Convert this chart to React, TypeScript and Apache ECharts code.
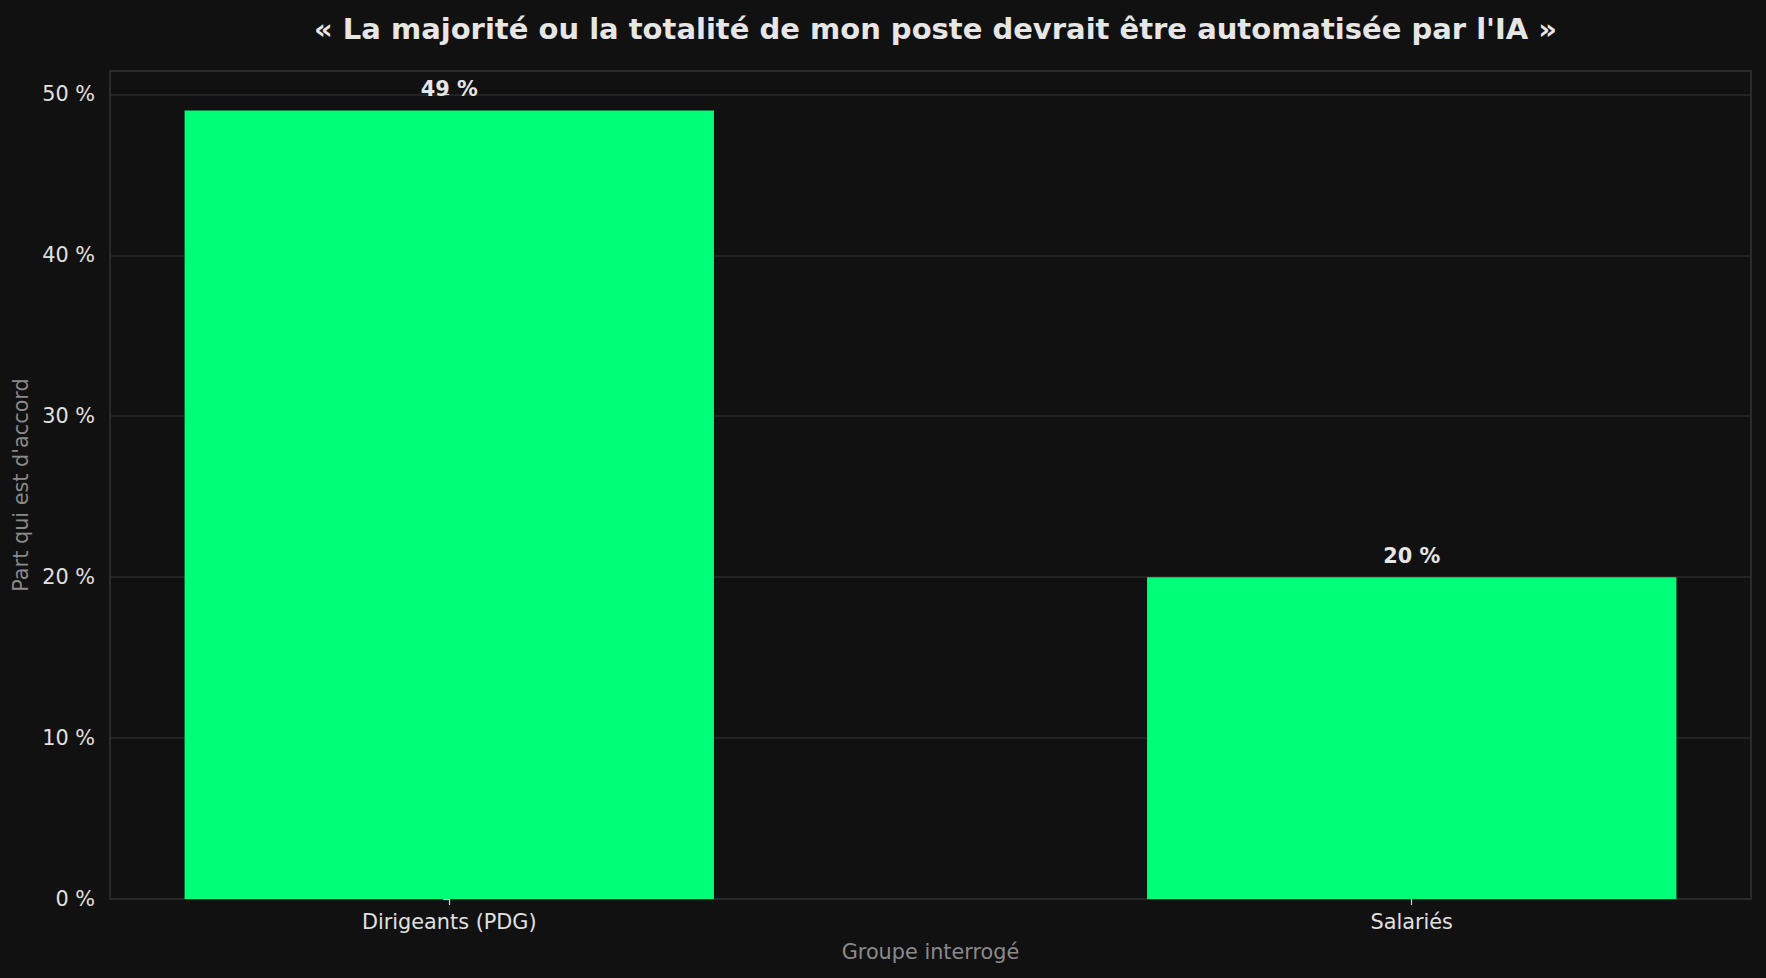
import React, { useEffect, useRef } from 'react';
import * as echarts from 'echarts';

const TITLE = "« La majorité ou la totalité de mon poste devrait être automatisée par l'IA »";
const groups = ['Dirigeants (PDG)', 'Salariés'];
const agreeShare = [49, 20];
const yTicks = [0, 10, 20, 30, 40, 50];

const W = 1766;
const H = 978;
const GRID = { left: 110, right: 15, top: 71, bottom: 79 };
const BAR_REL = 0.55;
const X_MIN = -0.3525;
const X_MAX = 1.3525;
const Y_MAX = 51.45;

const App: React.FC = () => {
  const ref = useRef<HTMLDivElement | null>(null);

  useEffect(() => {
    if (!ref.current) return;
    const chart = echarts.init(ref.current, null, { renderer: 'svg' });
    const plotW = W - GRID.left - GRID.right;
    const barPx = (BAR_REL * plotW) / (X_MAX - X_MIN);
    const font = 'DejaVu Sans';
    const idx = groups.map((_, i) => i);

    chart.setOption({
      animation: false,
      backgroundColor: '#111111',
      textStyle: { fontFamily: font },
      title: {
        text: TITLE,
        left: GRID.left + plotW / 2,
        textAlign: 'center',
        top: 9,
        textStyle: { color: '#e6e6e6', fontSize: 29, fontWeight: 'bold', fontFamily: font },
      },
      grid: {
        ...GRID,
        show: true,
        borderColor: '#333333',
        borderWidth: 1.5,
        backgroundColor: 'transparent',
        containLabel: false,
      },
      xAxis: {
        type: 'value',
        min: X_MIN,
        max: X_MAX,
        name: 'Groupe interrogé',
        nameLocation: 'middle',
        nameGap: 42,
        nameTextStyle: { color: '#8a8a8a', fontSize: 20.8, fontFamily: font },
        axisLine: { show: false },
        axisTick: { show: true, length: 6, lineStyle: { color: '#d0d0d0', width: 1.2 }, customValues: idx },
        axisLabel: {
          color: '#e0e0e0',
          fontSize: 20.8,
          margin: 12,
          customValues: idx,
          formatter: (v: number) => groups[Math.round(v)] ?? '',
        },
        splitLine: { show: false },
      },
      yAxis: {
        type: 'value',
        min: 0,
        max: Y_MAX,
        name: "Part qui est d'accord",
        nameLocation: 'middle',
        nameRotate: 90,
        nameGap: 75,
        nameTextStyle: { color: '#8a8a8a', fontSize: 20.8, fontFamily: font },
        axisLine: { show: false },
        axisTick: { show: true, length: 6, lineStyle: { color: '#d0d0d0', width: 1.2 }, customValues: yTicks },
        axisLabel: {
          color: '#e0e0e0',
          fontSize: 20.8,
          margin: 15,
          customValues: yTicks,
          formatter: (v: number) => `${v} %`,
        },
        splitLine: { show: true, lineStyle: { color: '#2a2a2a', width: 1.5 } },
      },
      series: [
        {
          type: 'bar',
          data: agreeShare.map((v, i) => [i, v]),
          barWidth: barPx,
          itemStyle: { color: '#00ff78' },
          label: {
            show: true,
            position: 'top',
            distance: 11,
            color: '#e6e6e6',
            fontSize: 20.8,
            fontWeight: 'bold',
            fontFamily: font,
            formatter: (p: any) => `${p.value[1]} %`,
          },
        },
      ],
    });

    return () => {
      chart.dispose();
    };
  }, []);

  return (
    <div
      ref={ref}
      style={{ position: 'absolute', left: 0, top: 0, width: W, height: H, background: '#111111' }}
    />
  );
};

export default App;
